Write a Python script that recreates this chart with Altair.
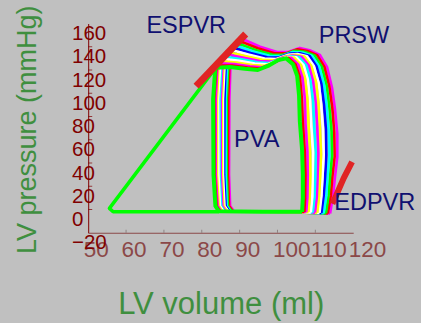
import altair as alt
import pandas as pd

# ---- loop data: rows = path point k, columns = loop i (0 = innermost ... 13 = outermost)
PT_V = [
    [106.5,107.1,107.6,108.2,108.8,109.3,109.9,110.5,111.1,111.6,112.2,112.8,113.3,113.9],
    [106.7,107.3,107.9,108.5,109.2,109.8,110.4,111.0,111.6,112.2,112.9,113.5,114.1,114.7],
    [106.7,107.4,108.0,108.7,109.3,110.0,110.6,111.3,111.9,112.6,113.2,113.9,114.5,115.2],
    [106.5,107.2,107.9,108.6,109.4,110.1,110.8,111.5,112.2,112.9,113.7,114.4,115.1,115.8],
    [105.9,106.7,107.4,108.2,108.9,109.7,110.5,111.2,112.0,112.8,113.5,114.3,115.0,115.8],
    [105.7,106.4,107.2,107.9,108.6,109.4,110.1,110.8,111.5,112.3,113.0,113.7,114.5,115.2],
    [105.2,105.9,106.6,107.3,108.0,108.7,109.4,110.2,110.9,111.6,112.3,113.0,113.7,114.4],
    [104.1,104.8,105.5,106.2,106.9,107.6,108.3,108.9,109.6,110.3,111.0,111.7,112.4,113.1],
    [102.3,103.0,103.7,104.4,105.0,105.7,106.4,107.1,107.8,108.5,109.1,109.8,110.5,111.2],
    [100.2,100.8,101.5,102.1,102.7,103.4,104.0,104.7,105.3,105.9,106.6,107.2,107.9,108.5],
    [97.5,98.1,98.8,99.4,100.1,100.7,101.4,102.0,102.7,103.3,104.0,104.6,105.3,105.9],
    [94.8,95.4,96.0,96.6,97.3,97.9,98.5,99.1,99.7,100.3,101.0,101.6,102.2,102.8],
    [91.4,92.1,92.7,93.4,94.0,94.7,95.3,96.0,96.6,97.3,97.9,98.6,99.2,99.9],
    [87.4,88.0,88.6,89.2,89.9,90.5,91.1,91.7,92.3,92.9,93.6,94.2,94.8,95.4],
    [83.7,84.3,84.9,85.4,86.0,86.6,87.2,87.7,88.3,88.9,89.5,90.0,90.6,91.2],
    [83.5,83.8,84.1,84.4,84.8,85.1,85.4,85.7,86.0,86.3,86.7,87.0,87.3,87.6],
    [83.0,83.3,83.7,84.0,84.3,84.7,85.0,85.3,85.6,86.0,86.3,86.6,87.0,87.3],
    [83.1,83.4,83.7,84.0,84.4,84.7,85.0,85.3,85.6,85.9,86.3,86.6,86.9,87.2],
    [83.6,83.9,84.2,84.5,84.8,85.1,85.4,85.7,86.0,86.3,86.6,86.9,87.2,87.5],
    [84.5,84.8,85.1,85.4,85.7,86.0,86.3,86.7,87.0,87.3,87.6,87.9,88.2,88.5],
    [96.0,96.3,96.6,96.9,97.2,97.5,97.8,98.2,98.5,98.8,99.1,99.4,99.7,100.0],
]
PT_P = [
    [-2.0,-2.1,-2.2,-2.3,-2.5,-2.6,-2.7,-2.8,-2.9,-3.0,-3.2,-3.3,-3.4,-3.5],
    [10.0,10.2,10.4,10.6,10.8,11.0,11.2,11.3,11.5,11.7,11.9,12.1,12.3,12.5],
    [30.0,29.8,29.7,29.5,29.4,29.2,29.1,28.9,28.8,28.6,28.5,28.3,28.2,28.0],
    [51.0,50.5,50.1,49.6,49.2,48.7,48.2,47.8,47.3,46.8,46.4,45.9,45.5,45.0],
    [76,75,74,74,73,72,71,70,70,69,68,67,66,65],
    [98,97,96,95,94,93,92,92,91,90,89,88,87,86],
    [115.0,114.2,113.5,112.7,111.9,111.2,110.4,109.6,108.8,108.1,107.3,106.5,105.8,105.0],
    [125.0,124.8,124.6,124.4,124.2,124.0,123.8,123.7,123.5,123.3,123.1,122.9,122.7,122.5],
    [130.0,130.2,130.5,130.7,130.9,131.2,131.4,131.6,131.8,132.1,132.3,132.5,132.8,133.0],
    [128.5,129.2,129.8,130.5,131.1,131.8,132.4,133.1,133.7,134.4,135.0,135.7,136.3,137.0],
    [123.5,124.7,125.9,127.1,128.3,129.5,130.7,131.8,133.0,134.2,135.4,136.6,137.8,139.0],
    [120.0,121.2,122.4,123.6,124.8,126.0,127.2,128.3,129.5,130.7,131.9,133.1,134.3,135.5],
    [121.0,122.1,123.2,124.3,125.5,126.6,127.7,128.8,129.9,131.0,132.2,133.3,134.4,135.5],
    [122.5,123.8,125.2,126.5,127.9,129.2,130.6,131.9,133.3,134.6,136.0,137.3,138.7,140.0],
    [122.0,123.8,125.7,127.5,129.4,131.2,133.1,134.9,136.8,138.6,140.5,142.3,144.2,146.0],
    [119.0,119.5,119.9,120.4,120.8,121.3,121.8,122.2,122.7,123.2,123.6,124.1,124.5,125.0],
    [95]*14,
    [30]*14,
    [3]*14,
    [-1.5]*14,
    [-2]*14,
]
LOOP_COLORS = ["#00ff00", "#ff0000", "#ff00ff", "#ffff00", "#ffffff", "#00ffff", "#ff00ff",
               "#ffff00", "#ffffff", "#0000ff", "#00ffff", "#00ff00", "#ff0000", "#ff00ff"]

# PVA triangle (green), ESPVR and EDPVR segments
TRI_V = [83.7, 55.6, 56.6, 84.5]
TRI_P = [122.0, 1.0, -2.0, -2.0]
ESPVR_V = [78.5, 91.6]
ESPVR_P = [106.2, 151.0]
EDPVR_V = [114.5, 115.5, 117.5, 119.7]
EDPVR_P = [5.0, 12.0, 27.0, 41.0]

LABELS = ["ESPVR", "PRSW", "PVA", "EDPVR"]
LABEL_V = [75.9, 120.2, 94.5, 125.7]
LABEL_P = [151.6, 143.5, 54.0, -0.4]

X_TICKS = [50, 60, 70, 80, 90, 100, 110, 120]
Y_TICKS = [-20, 0, 20, 40, 60, 80, 100, 120, 140, 160]
X_INNER_TICKS = [60, 70, 80, 90, 100, 110]
Y_INNER_TICKS = [0, 20, 40, 60, 80, 100, 120, 140]

rows = []
n_loops = len(LOOP_COLORS)
for i in reversed(range(n_loops)):
    pts = list(range(len(PT_V))) + [0]
    for order, k in enumerate(pts):
        rows.append({"loop": i, "k": order, "V": PT_V[k][i], "P": PT_P[k][i],
                     "c": LOOP_COLORS[i]})
loops = pd.DataFrame(rows)
tri = pd.DataFrame({"V": TRI_V, "P": TRI_P, "k": range(len(TRI_V))})
esp = pd.DataFrame({"V": ESPVR_V, "P": ESPVR_P, "k": range(len(ESPVR_V))})
edp = pd.DataFrame({"V": EDPVR_V, "P": EDPVR_P, "k": range(len(EDPVR_V))})
lab = pd.DataFrame({"t": LABELS, "V": LABEL_V, "P": LABEL_P})
xt = pd.DataFrame({"V": X_INNER_TICKS})
yt = pd.DataFrame({"P": Y_INNER_TICKS})

FONT = "Liberation Sans"
xscale = alt.Scale(domain=[50, 120], nice=False, zero=False)
yscale = alt.Scale(domain=[-20, 160], nice=False, zero=False)
xenc = alt.X("V:Q", scale=xscale,
             axis=alt.Axis(values=X_TICKS, title="LV volume (ml)", grid=False,
                           ticks=False, tickSize=0, labelPadding=5.5,
                           labelAlign="left", labelBaseline="top", labelOffset=-5,
                           labelFont=FONT, labelFontSize=22.5, labelColor="#8b4848",
                           domainColor="#8b4848", labelFlush=False, labelOverlap=False,
                           titleFont=FONT, titleFontSize=31, titleFontWeight="normal",
                           titleColor="#3f8f3f", titleX=132.5, titleY=80.5,
                           titleAlign="center", titleBaseline="alphabetic"))
yenc = alt.Y("P:Q", scale=yscale,
             axis=alt.Axis(values=Y_TICKS, title="LV pressure (mmHg)", grid=False,
                           ticks=False, tickSize=0, labelPadding=16.7,
                           labelAlign="left", labelBaseline="top",
                           labelFont=FONT, labelFontSize=20.5, labelColor="#800000",
                           domainColor="#800000", labelFlush=False, labelOverlap=False,
                           titleFont=FONT, titleFontSize=27, titleFontWeight="normal",
                           titleColor="#3f8f3f", titleAngle=270, titleX=-52.7,
                           titleY=105.8, titleAlign="center", titleBaseline="alphabetic"))

outer = alt.Chart(loops).transform_filter("datum.loop > 0").mark_line(
    strokeWidth=2.6, strokeJoin="round").encode(
    x=xenc, y=yenc, color=alt.Color("c:N", scale=None),
    detail="loop:N", order="k:Q")
inner = alt.Chart(loops).transform_filter("datum.loop == 0").mark_line(
    strokeWidth=4, color="#00ff00", strokeJoin="round").encode(
    x=xenc, y=yenc, order="k:Q")
triangle = alt.Chart(tri).mark_line(strokeWidth=3.5, color="#00ff00",
                                    strokeJoin="round").encode(x=xenc, y=yenc, order="k:Q")
espvr = alt.Chart(esp).mark_line(strokeWidth=7, color="#e02424").encode(
    x=xenc, y=yenc, order="k:Q")
edpvr = alt.Chart(edp).mark_line(strokeWidth=6, color="#e02424").encode(
    x=xenc, y=yenc, order="k:Q")
texts = alt.Chart(lab).mark_text(font=FONT, fontSize=23.5, color="#101070",
                                 align="center", baseline="alphabetic").encode(
    x=xenc, y=yenc, text="t:N")
xticks = alt.Chart(xt).mark_tick(orient="vertical", size=3, thickness=1,
                                 color="#7a6a6a").encode(x=xenc, y=alt.value(207.7))
yticks = alt.Chart(yt).mark_tick(orient="horizontal", size=4, thickness=1,
                                 color="#800000").encode(y=yenc, x=alt.value(2))

chart = alt.layer(xticks, yticks, triangle, outer, inner, espvr, edpvr, texts).properties(
    width=265, height=209.25,
    autosize=alt.AutoSizeParams(type="none"),
    padding={"left": 88.2, "top": 23.5, "right": 67.8, "bottom": 90.25},
    background="#c0c0c0",
).configure_view(strokeWidth=0)

chart.save("out.html", embed_options={"renderer": "svg", "actions": False})
